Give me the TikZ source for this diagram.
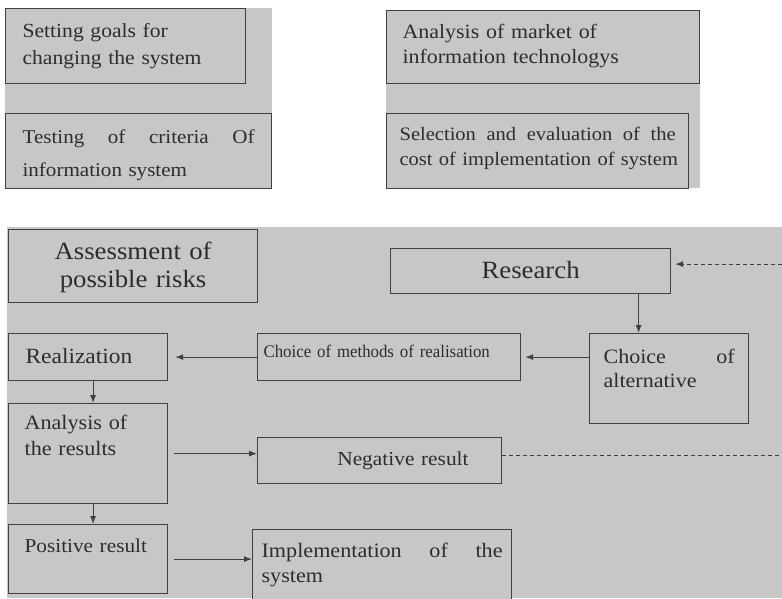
\documentclass[tikz,border=0pt]{standalone}
\usepackage{fontspec}
\setmainfont{Liberation Serif}[FakeStretch=1.08]
\newfontfamily\narrowserif{Liberation Serif}[FakeStretch=0.95]
\usepackage{tikz}
\usetikzlibrary{arrows.meta, positioning, calc}

\definecolor{paper}{RGB}{199,199,199}
\definecolor{edge}{RGB}{64,64,64}
\definecolor{ink}{RGB}{45,45,45}

\newcommand{\fsz}[2]{\fontsize{#1}{#2}\selectfont}

\begin{document}
\begin{tikzpicture}[x=1pt, y=-1pt,
  box/.style = {draw=edge, line width=1.2pt, fill=paper, text=ink, anchor=north west, inner sep=0pt, align=left},
  panel/.style = {fill=paper},
  arrow/.style = {draw=edge, line width=1pt, -{Latex[length=8pt,width=6pt]}},
  loopline/.style = {draw=edge, line width=1pt, dash pattern=on 4pt off 3pt}
]

% Frame
\useasboundingbox (0,0) rectangle (782,598);
\fill[white] (0,0) rectangle (782,598);
\clip (0,0) rectangle (782,598);

% Grey scan backgrounds
\fill[panel] (5,8) rectangle (272,188);
\fill[panel] (386,10) rectangle (700,188);
\fill[panel] (7,227) rectangle (782,598);

% Top left panel
\node[box, minimum width=240pt, text width=206pt, text height=28.7pt, text depth=46.3pt, font=\fsz{20}{27.5}] (goals) at (5,8) {Setting goals for\\changing the system};
\node[box, minimum width=266pt, text width=232pt, text height=30pt, text depth=45pt, font=\fsz{19.5}{33}] (testing) at (5,113) {Testing\hfill of\hfill criteria\hfill Of\\information system};

% Top right panel
\node[box, minimum width=313pt, text width=281pt, text height=28pt, text depth=45pt, font=\fsz{20.3}{25}] (market) at (386,10) {Analysis of market of\\information technologys};
\node[box, minimum width=302pt, text width=276pt, text height=27pt, text depth=48pt, font=\fsz{19}{25}] (select) at (386,113) {Selection\hfill and\hfill evaluation\hfill of\hfill the\\\mbox{cost of implementation of system}};

% Flow chart
\node[box, align=center, minimum width=249pt, text width=239pt, text height=30pt, text depth=43pt, font=\fsz{24.8}{28}] (assess) at (8,229) {Assessment of\\possible risks};
\node[box, align=center, minimum width=280pt, text width=270pt, text height=30pt, text depth=15pt, font=\fsz{24.8}{28}] (research) at (390,248) {Research};
\node[box, minimum width=159pt, text width=125pt, text height=30pt, text depth=17pt, font=\fsz{21.7}{26}] (realization) at (8,333) {Realization};
\node[box, minimum width=263pt, text width=251pt, text height=24pt, text depth=23pt, font={\narrowserif\fsz{17.7}{20}}] (methods) at (257,333) {Choice of methods of realisation};
\node[box, minimum width=159pt, text width=131pt, text height=30pt, text depth=60pt, font=\fsz{20.4}{24}] (alt) at (589,333) {Choice\hfill of\\alternative};
\node[box, minimum width=159pt, text width=127pt, text height=26pt, text depth=74pt, font=\fsz{20.5}{26}] (analysis) at (8,403) {Analysis of\\the results};
\node[box, align=right, minimum width=244pt, text width=178pt, text height=28pt, text depth=18pt, font=\fsz{19.8}{24}] (negative) at (257,437) {Negative result};
\node[box, minimum width=159pt, text width=127pt, text height=27.7pt, text depth=41.3pt, font=\fsz{19.7}{24}] (positive) at (8,524) {Positive result};
\node[box, minimum width=259pt, text width=241pt, text height=28pt, text depth=70pt, font=\fsz{20.5}{25}] (implement) at (252,529) {Implementation\hfill of\hfill the\\system};

% Loose ends at the right rim
\coordinate (rim) at (782,0);
\coordinate (drop) at ([xshift=108pt]research.south);
\coordinate (backin) at ([yshift=7pt]research.east);
\coordinate (backout) at ([yshift=5pt]negative.east);

% Connectors
\draw[loopline, -{Latex[length=8pt,width=6pt]}, shorten >=4pt] (rim |- backin) -- (backin);
\draw[arrow] (drop) -- (drop |- alt.north);
\draw[arrow, shorten >=4pt] (alt.west |- methods.east) -- (methods.east);
\draw[arrow, shorten >=7pt] (methods.west) -- (realization.east);
\draw[arrow] ([xshift=5pt]realization.south) -- ([xshift=5pt]analysis.north);
\draw[arrow, shorten <=6pt] (analysis.east) -- (negative.west |- analysis.east);
\draw[loopline] (backout) -- (rim |- backout);
\draw[arrow] ([xshift=5pt]analysis.south) -- ([xshift=5pt]positive.north);
\draw[arrow, shorten <=6pt] (positive.east) -- (implement.west |- positive.east);

\end{tikzpicture}
\end{document}
